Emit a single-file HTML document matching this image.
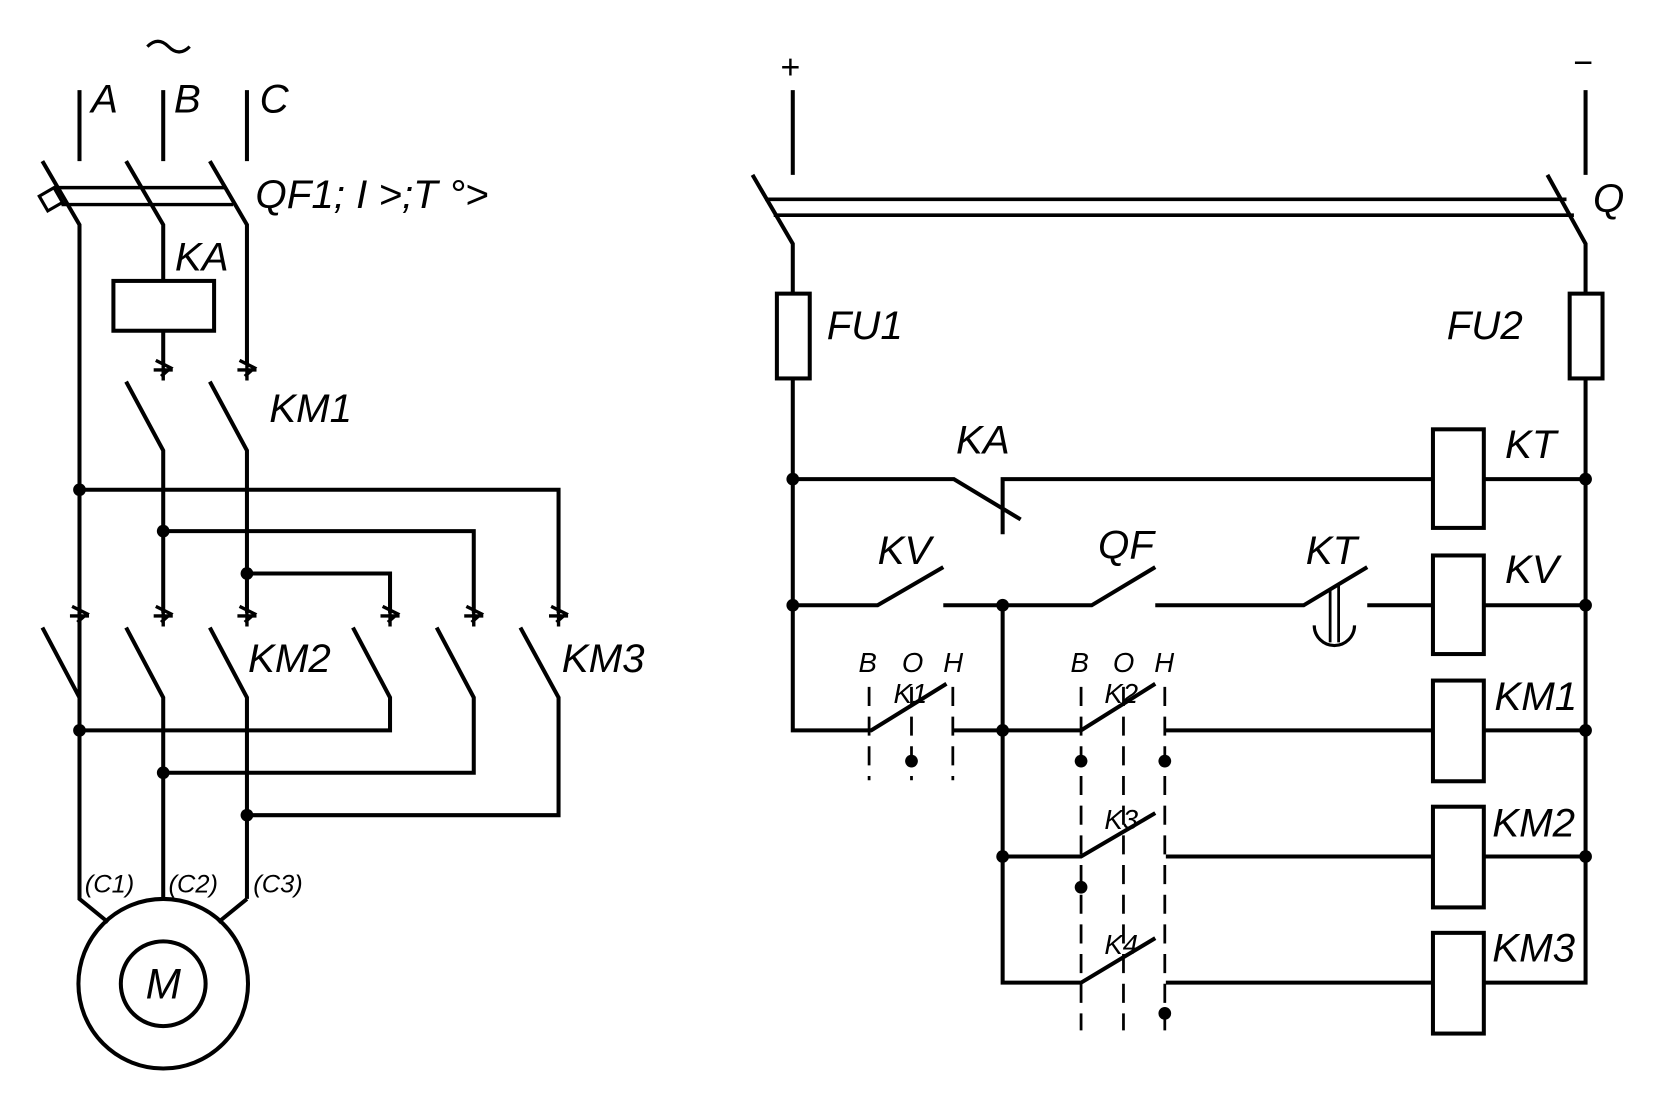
<!DOCTYPE html>
<html><head><meta charset="utf-8"><style>
html,body{margin:0;padding:0;background:#fff;width:1664px;height:1112px;overflow:hidden}
svg{display:block}
text{font-family:"Liberation Sans Narrow","Liberation Sans",sans-serif;font-style:italic;fill:#000}
</style></head><body>
<svg width="1664" height="1112" viewBox="0 0 1570 1049" preserveAspectRatio="none" xmlns="http://www.w3.org/2000/svg">
<defs>
<g id="tick"><path d="M-9,0 H9 M0,-18 V10 M-7,-9 L7,-2 L-2,6" fill="none" stroke="#000" stroke-width="3.2"/></g>
</defs>
<g fill="none" stroke="#000" stroke-width="3.8" stroke-linecap="butt">
<path d="M75,85V152 M154,85V152 M233,85V152"/>
<path d="M139,44 q10,-10 20,0 q10,10 20,0" stroke-width="3"/>
<path d="M40,152 L75,212 V690 M119,152 L154,212 V265 M198,152 L233,212 V344"/>
<path d="M52,177 H212 M58,193 H220" stroke-width="3.2"/>
<rect x="40" y="180" width="16" height="16" transform="rotate(-30 48 188)" stroke-width="3" fill="#fff"/>
<rect x="107" y="265" width="95" height="47"/>
<path d="M154,312V344"/>
<path d="M119,360 L154,425 V578 M198,360 L233,425 V578"/>
<path d="M75,462 H527 V578 M154,501 H447 V578 M233,541 H368 V578"/>
<path d="M40,592 L75,658 M119,592 L154,658 V848 M198,592 L233,658 V848 M333,592 L368,658 V689 H75 M412,592 L447,658 V729 H154 M491,592 L527,658 V769 H233"/>
<path d="M75,690 V848 L102,870 M233,848 L206,870"/>
<circle cx="154" cy="928" r="80"/>
<circle cx="154" cy="928" r="40"/>
<path d="M748,85V165 M1496,85V165"/>
<path d="M710,165 L748,230 V277 M1460,165 L1496,230 V277"/>
<path d="M722,188 H1478 M730,203 H1485" stroke-width="3.4"/>
<rect x="733" y="277" width="31" height="80"/>
<rect x="1481" y="277" width="31" height="80"/>
<path d="M748,357 V689 H822 L893,645 M1496,357 V927 H1400"/>
<path d="M748,452 H900 L963,490 M946,504 V452 H1352 M1400,452 H1496"/>
<rect x="1352" y="405" width="48" height="93"/>
<path d="M748,571 H828 L890,535 M890,571 H1030 L1090,535 M1090,571 H1230 L1290,535 M1290,571 H1352 M1400,571 H1496"/>
<path d="M1255,556 V606 M1263,552 V606" stroke-width="2.6"/>
<path d="M1240,590 A19,19 0 0 0 1278,590" stroke-width="3"/>
<rect x="1352" y="524" width="48" height="93"/>
<path d="M946,571 V927 H1020 L1090,885 M900,689 H1020 L1090,645 M1100,689 H1352 M1400,689 H1496"/>
<path d="M946,808 H1020 L1090,767 M1100,808 H1352 M1400,808 H1496 M1100,927 H1352"/>
<rect x="1352" y="642" width="48" height="95"/>
<rect x="1352" y="761" width="48" height="95"/>
<rect x="1352" y="880" width="48" height="95"/>
<g stroke-width="2.6" stroke-dasharray="18,10">
<path d="M820,648 V736 M860,648 V736 M899,648 V736"/>
<path d="M1020,648 V972 M1060,648 V972 M1099,648 V972"/>
</g>
</g>
<use href="#tick" x="154" y="349"/><use href="#tick" x="233" y="349"/>
<use href="#tick" x="75" y="581"/><use href="#tick" x="154" y="581"/><use href="#tick" x="233" y="581"/>
<use href="#tick" x="368" y="581"/><use href="#tick" x="447" y="581"/><use href="#tick" x="527" y="581"/>
<g fill="#000">
<circle cx="75" cy="462" r="6"/><circle cx="154" cy="501" r="6"/><circle cx="233" cy="541" r="6"/>
<circle cx="75" cy="689" r="6"/><circle cx="154" cy="729" r="6"/><circle cx="233" cy="769" r="6"/>
<circle cx="748" cy="452" r="6"/><circle cx="748" cy="571" r="6"/><circle cx="946" cy="571" r="6"/>
<circle cx="946" cy="689" r="6"/><circle cx="946" cy="808" r="6"/>
<circle cx="1496" cy="452" r="6"/><circle cx="1496" cy="571" r="6"/><circle cx="1496" cy="689" r="6"/><circle cx="1496" cy="808" r="6"/>
<circle cx="860" cy="718" r="6"/><circle cx="1020" cy="718" r="6"/><circle cx="1099" cy="718" r="6"/>
<circle cx="1020" cy="837" r="6"/><circle cx="1099" cy="956" r="6"/>
</g>
<g font-size="38">
<text x="86" y="106">A</text><text x="164" y="106">B</text><text x="245" y="106">C</text>
<text x="241" y="196">QF1; I &gt;;T °&gt;</text>
<text x="165" y="255">KA</text>
<text x="254" y="398">KM1</text>
<text x="234" y="634">KM2</text>
<text x="530" y="634">KM3</text>
<text x="154" y="942" font-size="40" text-anchor="middle">M</text>
<text x="1503" y="200">Q</text>
<text x="780" y="320">FU1</text>
<text x="1365" y="320">FU2</text>
<text x="902" y="428">KA</text>
<text x="828" y="532">KV</text>
<text x="1036" y="527">QF</text>
<text x="1232" y="532">KT</text>
<text x="1420" y="432">KT</text>
<text x="1420" y="550">KV</text>
<text x="1410" y="670">KM1</text>
<text x="1408" y="789">KM2</text>
<text x="1408" y="907">KM3</text>
</g>
<text x="736" y="74" font-size="32" font-style="normal">+</text>
<text x="1484" y="70" font-size="32" font-style="normal">−</text>
<g font-size="24">
<text x="80" y="842">(C1)</text><text x="159" y="842">(C2)</text><text x="239" y="842">(C3)</text>
</g>
<g font-size="26">
<text x="810" y="634">B</text><text x="851" y="634">O</text><text x="890" y="634">H</text>
<text x="1010" y="634">B</text><text x="1050" y="634">O</text><text x="1089" y="634">H</text>
<text x="843" y="663">K1</text><text x="1042" y="663">K2</text>
<text x="1042" y="782">K3</text><text x="1042" y="900">K4</text>
</g>
</svg>
</body></html>
